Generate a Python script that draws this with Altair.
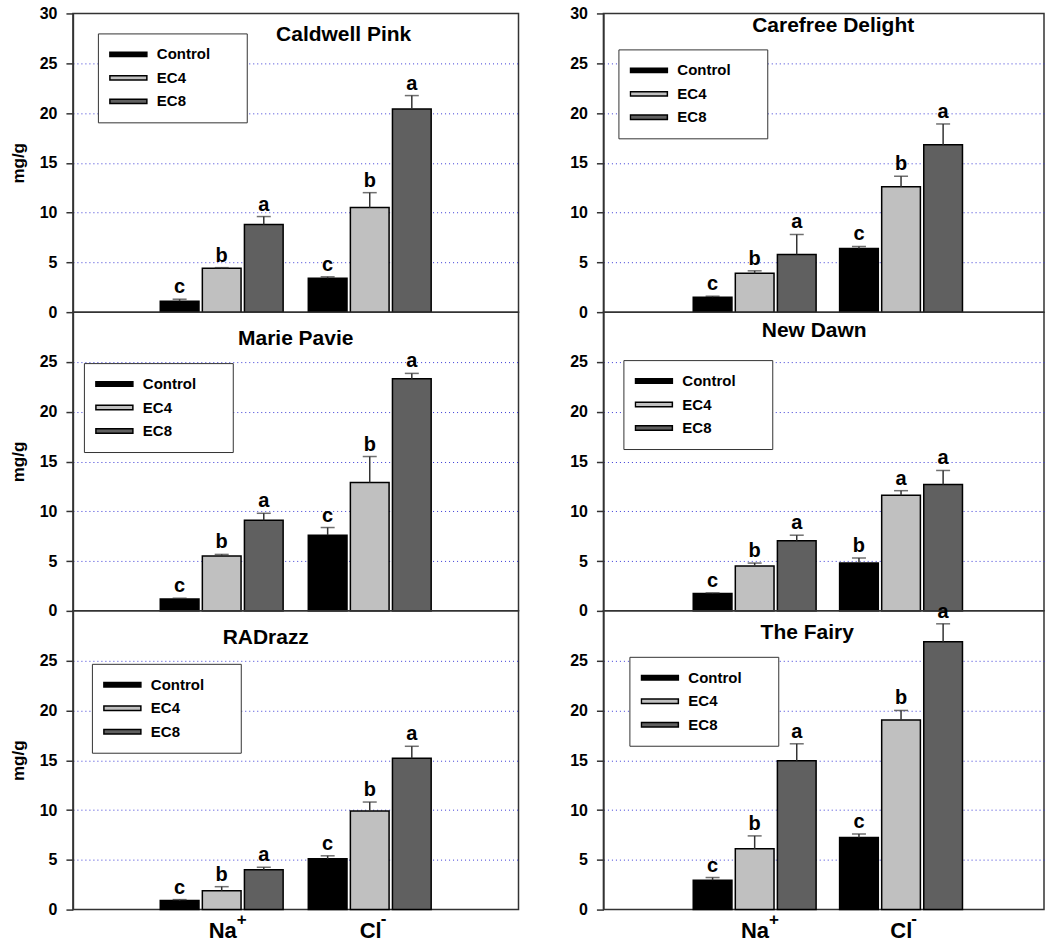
import altair as alt
import pandas as pd

# ---------------- data ----------------
panel_names = ["Caldwell Pink", "Carefree Delight", "Marie Pavie", "New Dawn", "RADrazz", "The Fairy"]
ions = ["Na+", "Cl-"]
ion_base = ["Na", "Cl"]
treatments = ["Control", "EC4", "EC8"]
fills = ["#000000", "#c0c0c0", "#606060"]

# order of values: Na Control, Na EC4, Na EC8, Cl Control, Cl EC4, Cl EC8
caldwell_pink_mean = [1.1, 4.4, 8.8, 3.4, 10.5, 20.4]
caldwell_pink_se = [0.2, 0.07, 0.8, 0.15, 1.5, 1.35]
caldwell_pink_letters = ["c", "b", "a", "c", "b", "a"]

carefree_delight_mean = [1.5, 3.9, 5.8, 6.4, 12.6, 16.8]
carefree_delight_se = [0.1, 0.25, 2.0, 0.2, 1.05, 2.1]
carefree_delight_letters = ["c", "b", "a", "c", "b", "a"]

marie_pavie_mean = [1.2, 5.5, 9.1, 7.6, 12.9, 23.3]
marie_pavie_se = [0.07, 0.17, 0.7, 0.77, 2.6, 0.55]
marie_pavie_letters = ["c", "b", "a", "c", "b", "a"]

new_dawn_mean = [1.75, 4.5, 7.05, 4.8, 11.6, 12.7]
new_dawn_se = [0.05, 0.3, 0.55, 0.5, 0.47, 1.4]
new_dawn_letters = ["c", "b", "a", "b", "a", "a"]

radrazz_mean = [0.9, 1.9, 4.0, 5.1, 9.9, 15.2]
radrazz_se = [0.1, 0.4, 0.25, 0.3, 0.9, 1.2]
radrazz_letters = ["c", "b", "a", "c", "b", "a"]

the_fairy_mean = [2.95, 6.1, 14.95, 7.25, 19.05, 26.9]
the_fairy_se = [0.27, 1.3, 1.7, 0.35, 0.95, 1.8]
the_fairy_letters = ["c", "b", "a", "c", "b", "a"]

series = [
    (caldwell_pink_mean, caldwell_pink_se, caldwell_pink_letters),
    (carefree_delight_mean, carefree_delight_se, carefree_delight_letters),
    (marie_pavie_mean, marie_pavie_se, marie_pavie_letters),
    (new_dawn_mean, new_dawn_se, new_dawn_letters),
    (radrazz_mean, radrazz_se, radrazz_letters),
    (the_fairy_mean, the_fairy_se, the_fairy_letters),
]

# ---------------- layout / style ----------------
FONT = "Liberation Sans"
H = 299
W_LEFT = 446
W_RIGHT = 441
FRAME = "#333333"
GRID = "#3a3ad6"
NBSP = "\u00a0"
ZWSP = "\u200b"
# per panel: (legendX, legendY, titleX, titleY)
layout = [
    (25, 20, 271, 22),
    (15, 36, 230, 13),
    (11, 51, 223, 27),
    (20, 48, 211, 19),
    (19, 53, 193, 27),
    (26, 46, 204, 22),
]
LEGEND_PATH = "M-1,-0.12H1V0.12H-1Z"


def make_panel(i):
    name = panel_names[i]
    mean, se, letters = series[i]
    left = i % 2 == 0
    top = i < 2
    bottom = i >= 4
    width = W_LEFT if left else W_RIGHT
    lx, ly, tx, ty = layout[i]

    rows = []
    k = 0
    for ion in ions:
        for t in treatments:
            rows.append({"ion": ion, "treatment": t, "value": mean[k],
                         "hi": mean[k] + se[k], "letter": letters[k]})
            k += 1
    df = pd.DataFrame(rows)

    xscale = alt.Scale(domain=ions, paddingInner=0.17, paddingOuter=0.59,
                       align=0.5 if left else 0.52)
    xenc = alt.X("ion:N", sort=ions, scale=xscale, axis=None)
    xoff = alt.XOffset("treatment:N", sort=treatments,
                       scale=alt.Scale(domain=treatments, paddingInner=0.08, paddingOuter=0))
    yscale = alt.Scale(domain=[0, 30], nice=False, zero=True)
    yaxis = alt.Axis(
        values=[0, 5, 10, 15, 20, 25, 30] if top else [0, 5, 10, 15, 20, 25],
        title="mg/g" if left else None,
        titleFont=FONT, titleFontSize=17, titleFontWeight="bold", titleColor="black",
        titlePadding=12,
        labelFont=FONT, labelFontSize=16, labelFontWeight="bold", labelColor="black",
        labelPadding=9, tickSize=7, tickWidth=1.5, tickColor=FRAME,
        domainColor=FRAME, domainWidth=1.5,
        grid=True,
        gridColor=alt.condition("datum.value == 0 || datum.value == 30",
                                alt.value("transparent"), alt.value(GRID)),
        gridDash=[1, 3], gridWidth=1,
    )

    base = alt.Chart(df).encode(x=xenc, xOffset=xoff)

    bars = base.mark_bar(stroke="black", strokeWidth=1.5, opacity=1).encode(
        y=alt.Y("value:Q", scale=yscale, axis=yaxis),
        color=alt.Color(
            "treatment:N", sort=treatments,
            scale=alt.Scale(domain=treatments, range=fills),
            legend=alt.Legend(
                orient="none", legendX=lx, legendY=ly, title=None,
                fillColor="white", strokeColor=FRAME,
                padding=11, rowPadding=3.5, clipHeight=20,
                symbolType=LEGEND_PATH, symbolSize=1369,
                symbolStrokeColor="black", symbolStrokeWidth=1.5,
                symbolOffset=0, labelOffset=9,
                labelFont=FONT, labelFontSize=15, labelFontWeight="bold",
                labelColor="black",
                labelExpr="datum.label + '" + NBSP * 6 + ZWSP + "'",
            ),
        ),
    )
    err = base.mark_rule(color=FRAME, strokeWidth=1.5).encode(
        y=alt.Y("value:Q", scale=yscale), y2="hi:Q")
    cap = base.mark_tick(color=FRAME, thickness=1.5, size=14).encode(
        y=alt.Y("hi:Q", scale=yscale))
    lett = base.mark_text(font=FONT, fontSize=20, fontWeight="bold", color="black",
                          baseline="alphabetic", dy=-6).encode(
        y=alt.Y("hi:Q", scale=yscale), text="letter:N")

    title = alt.Chart(pd.DataFrame({"name": [name]})).mark_text(
        font=FONT, fontSize=21, fontWeight="bold", color="black",
        align="center", baseline="middle").encode(
        x=alt.value(tx), y=alt.value(ty), text="name:N")

    layers = [bars, err, cap, lett, title]

    if bottom:
        ldf = pd.DataFrame({"ion": ions, "base": ion_base, "sup": ["+", "-"]})
        lbase = alt.Chart(ldf).encode(x=xenc)
        lab = lbase.mark_text(font=FONT, fontSize=22, fontWeight="bold", color="black",
                              align="center", baseline="alphabetic", dx=1).encode(
            y=alt.value(H + 28), text="base:N")
        sup_na = lbase.mark_text(font=FONT, fontSize=17, fontWeight="bold", color="black",
                                 align="left", baseline="alphabetic", dx=15, dy=-13).encode(
            y=alt.value(H + 28), text="sup:N").transform_filter("datum.ion == 'Na+'")
        sup_cl = lbase.mark_text(font=FONT, fontSize=17, fontWeight="bold", color="black",
                                 align="left", baseline="alphabetic", dx=11, dy=-14).encode(
            y=alt.value(H + 28), text="sup:N").transform_filter("datum.ion == 'Cl-'")
        layers += [lab, sup_na, sup_cl]

    return alt.layer(*layers).properties(width=width, height=H)


panels = [make_panel(i) for i in range(6)]

left_col = alt.vconcat(panels[0], panels[2], panels[4], spacing=0, bounds="flush").resolve_scale(
    color="independent").resolve_legend(color="independent")
right_col = alt.vconcat(panels[1], panels[3], panels[5], spacing=0, bounds="flush").resolve_scale(
    color="independent").resolve_legend(color="independent")

chart = alt.hconcat(left_col, right_col, spacing=49).resolve_scale(
    color="independent", x="independent").resolve_legend(color="independent").properties(
    padding={"left": 8, "top": 4, "right": 0, "bottom": 0},
    background="white",
).configure_view(stroke=FRAME, strokeWidth=1.5)

chart.save("out.html", embed_options={"renderer": "svg", "actions": False})
